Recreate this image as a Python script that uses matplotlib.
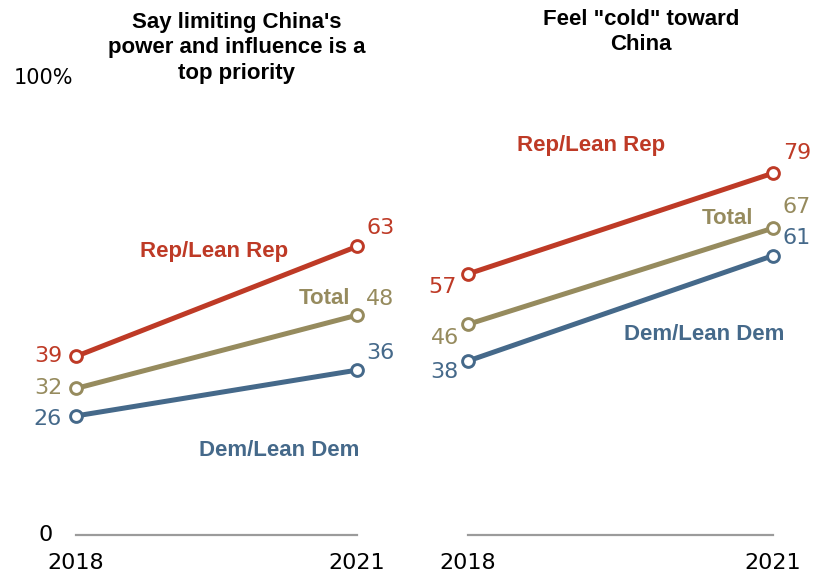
"""Two slope panels: partisan views of China, 2018 vs 2021."""

import matplotlib.pyplot as plt

W, H = 817, 575

years = [2018, 2021]
groups = ['Rep/Lean Rep', 'Total', 'Dem/Lean Dem']

# Say limiting China's power and influence is a top priority
priority_rep = [39, 63]
priority_total = [32, 48]
priority_dem = [26, 36]

# Feel "cold" toward China
cold_rep = [57, 79]
cold_total = [46, 67]
cold_dem = [38, 61]

COLORS = {'Rep/Lean Rep': '#BE3A26', 'Total': '#968B5E', 'Dem/Lean Dem': '#45698A'}
TITLE_FONT = ['Liberation Sans', 'DejaVu Sans']
NUM_FONT = ['DejaVu Sans']


def px(x, y):
    """pixel position (from top-left) -> figure fraction"""
    return x / W, 1 - y / H


fig = plt.figure(figsize=(W / 100, H / 100), dpi=100)

panels = [
    {'left': 76, 'right': 357,
     'series': [priority_rep, priority_total, priority_dem],
     'title': "Say limiting China's\npower and influence is a\ntop priority",
     'title_xy': (237, 48),
     # (x, y, ha) of the group name labels, in pixels
     'names': [(214, 252, 'center'), (350, 298, 'right'), (199, 451, 'left')],
     # pixel offsets of start / end value labels
     'start_off': [(-14, 0), (-14, 0), (-14, -3)],
     'end_off': [(9, 18), (9, 16), (9, 17)]},
    {'left': 468, 'right': 773,
     'series': [cold_rep, cold_total, cold_dem],
     'title': 'Feel "cold" toward\nChina',
     'title_xy': (641, 32),
     'names': [(591, 146, 'center'), (753, 219, 'right'), (784, 335, 'right')],
     'start_off': [(-11, -13), (-9, -14), (-9, -11)],
     'end_off': [(10, 20), (10, 21), (10, 18)]},
]

bottom_px, top_px = 535, 77

for i, p in enumerate(panels):
    l, b = px(p['left'], bottom_px)
    ax = fig.add_axes([l, b, (p['right'] - p['left']) / W, (bottom_px - top_px) / H])
    ax.set_xlim(years[0], years[-1])
    ax.set_ylim(0, 100)
    ax.axis('off')

    # zero baseline
    ax.plot(years, [0, 0], color='#9B9B9B', lw=1.6, clip_on=False, zorder=1)

    for g, vals, so, eo in zip(groups, p['series'], p['start_off'], p['end_off']):
        c = COLORS[g]
        ax.plot(years, vals, color=c, lw=3.6, marker='o', ms=8.5, mew=2.1,
                mfc='white', mec=c, clip_on=False, zorder=3)
        ax.annotate(str(vals[0]), (years[0], vals[0]), xytext=so,
                    textcoords='offset pixels', ha='right', va='center',
                    color=c, fontsize=16, family=NUM_FONT)
        ax.annotate(str(vals[-1]), (years[-1], vals[-1]), xytext=eo,
                    textcoords='offset pixels', ha='left', va='center',
                    color=c, fontsize=16, family=NUM_FONT)

    for g, (nx, ny, ha) in zip(groups, p['names']):
        fig.text(*px(nx, ny), g, ha=ha, va='center', color=COLORS[g],
                 fontsize=16, fontweight='bold', family=TITLE_FONT)

    fig.text(*px(*p['title_xy']), p['title'], ha='center', va='center',
             fontsize=16, fontweight='bold', family=TITLE_FONT, linespacing=1.27)

    for yr in years:
        ax.annotate(str(yr), (yr, 0), xytext=(0, -28), textcoords='offset pixels',
                    ha='center', va='center', fontsize=16, family=NUM_FONT,
                    annotation_clip=False)

    if i == 0:
        fig.text(*px(14, 78), '100%', ha='left', va='center', fontsize=15, family=NUM_FONT)
        fig.text(*px(53, 535), '0', ha='right', va='center', fontsize=16, family=NUM_FONT)

plt.savefig('out.png', dpi=100)
